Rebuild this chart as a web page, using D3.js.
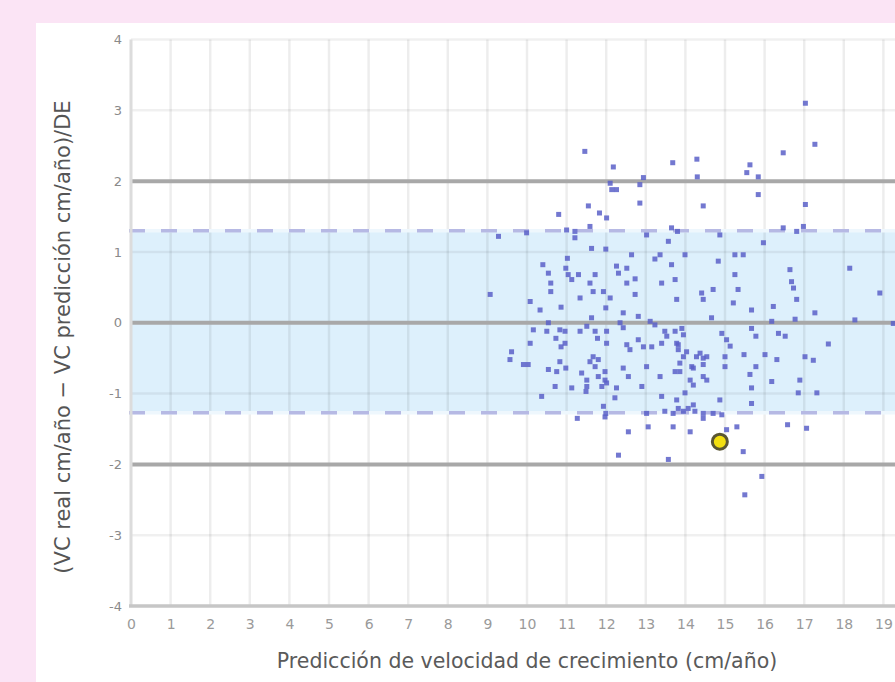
<!DOCTYPE html>
<html>
<head>
<meta charset="utf-8">
<script src="https://cdn.jsdelivr.net/npm/d3@7"></script>
<style>
  html, body { margin: 0; padding: 0; background: #fbe4f5; overflow: hidden; }
  svg { display: block; font-family: "DejaVu Sans", sans-serif; }
</style>
</head>
<body>
<svg id="chart"></svg>
<script>
// axis ticks
const xTickValues = [0, 1, 2, 3, 4, 5, 6, 7, 8, 9, 10, 11, 12, 13, 14, 15, 16, 17, 18, 19];
const yTickValues = [4, 3, 2, 1, 0, -1, -2, -3, -4];
// reference lines (+2 / 0 / -2 DE) and the shaded band
const limitLines = [2, 0, -2];
const bandLimits = [-1.27, 1.30];
// predicted growth velocity (cm/año) of each child
const predictedVelocity = [
  17.03, 17.27, 11.46, 16.47, 14.29, 13.68, 12.18, 15.63, 15.55, 14.30,
  15.84, 12.94, 12.85, 12.10, 12.14, 12.26, 15.84, 12.85, 11.55, 14.45,
  17.03, 10.80, 11.83, 12.01, 11.59, 9.99, 9.28, 11.00, 11.21, 11.21,
  13.02, 13.65, 13.57, 13.80, 11.63, 11.99, 14.87, 16.47, 16.81, 16.98,
  15.97, 11.02, 12.64, 13.36, 13.23, 13.65, 10.40, 10.54, 10.98, 11.04,
  11.13, 11.30, 11.72, 11.59, 12.26, 12.52, 12.31, 12.73, 12.52, 13.40,
  13.74, 10.60, 10.60, 9.07, 10.08, 10.33, 10.86, 11.34, 11.67, 11.93,
  12.10, 11.99, 12.43, 12.73, 12.81, 13.11, 13.78, 11.63, 12.35, 12.43,
  10.54, 10.16, 10.83, 10.96, 11.51, 11.34, 11.72, 12.01, 13.23, 13.48,
  13.74, 10.50, 10.73, 10.96, 10.86, 10.08, 11.78, 12.01, 12.52, 12.60,
  12.81, 12.94, 13.15, 13.40, 13.78, 9.61, 9.57, 9.91, 10.03, 10.83,
  10.98, 10.54, 10.75, 11.67, 11.59, 11.80, 11.72, 11.38, 11.97, 11.51,
  11.80, 11.97, 12.43, 12.56, 13.02, 13.36, 13.74, 10.71, 11.13, 11.51,
  11.49, 11.89, 12.01, 12.26, 12.22, 12.90, 10.37, 13.40, 13.78, 11.93,
  11.99, 13.02, 13.48, 13.53, 13.95, 13.82, 14.03, 13.95, 14.28, 14.16,
  13.86, 14.07, 14.20, 13.69, 14.12, 14.20, 13.86, 11.27, 11.97, 12.56,
  13.06, 13.69, 14.12, 12.31, 13.57, 14.45, 15.30, 15.04, 16.58, 17.06,
  15.46, 15.93, 15.50, 13.99, 15.25, 15.46, 14.83, 16.64, 18.15, 15.25,
  16.68, 16.73, 14.41, 14.70, 15.33, 14.45, 16.81, 18.91, 15.21, 15.67,
  16.22, 17.27, 14.66, 16.18, 16.77, 18.28, 19.25, 13.91, 15.67, 14.92,
  15.78, 16.35, 16.52, 15.04, 15.13, 17.61, 14.37, 14.45, 14.54, 15.00,
  15.48, 16.01, 16.31, 17.02, 17.23, 14.20, 14.45, 15.00, 15.78, 15.63,
  14.54, 16.18, 16.89, 15.67, 16.85, 17.32, 14.87, 15.67, 13.95, 14.24,
  14.70, 14.92, 13.82, 14.45, 13.99, 13.82, 14.45
];
// (VC real - VC predicción) / DE for the same children
const standardizedDiff = [
  3.10, 2.52, 2.42, 2.40, 2.31, 2.26, 2.20, 2.23, 2.12, 2.06,
  2.06, 2.05, 1.95, 1.97, 1.88, 1.88, 1.81, 1.69, 1.65, 1.65,
  1.67, 1.53, 1.55, 1.48, 1.36, 1.27, 1.22, 1.31, 1.29, 1.20,
  1.24, 1.34, 1.15, 1.29, 1.05, 1.04, 1.24, 1.34, 1.29, 1.36,
  1.13, 0.91, 0.96, 0.96, 0.90, 0.82, 0.82, 0.70, 0.77, 0.68,
  0.61, 0.68, 0.68, 0.56, 0.80, 0.77, 0.70, 0.62, 0.56, 0.56,
  0.61, 0.56, 0.44, 0.40, 0.30, 0.18, 0.22, 0.35, 0.44, 0.44,
  0.35, 0.21, 0.14, 0.40, 0.09, 0.02, 0.33, 0.07, 0.00, -0.07,
  0.00, -0.10, -0.10, -0.12, -0.05, -0.12, -0.12, -0.12, -0.03, -0.12,
  -0.12, -0.12, -0.22, -0.29, -0.34, -0.29, -0.22, -0.29, -0.31, -0.38,
  -0.24, -0.34, -0.34, -0.29, -0.29, -0.41, -0.52, -0.59, -0.59, -0.55,
  -0.64, -0.66, -0.69, -0.48, -0.55, -0.52, -0.62, -0.71, -0.69, -0.81,
  -0.76, -0.81, -0.64, -0.76, -0.62, -0.76, -0.69, -0.90, -0.92, -0.90,
  -0.97, -0.90, -0.85, -0.92, -1.06, -0.90, -1.04, -1.04, -1.09, -1.18,
  -1.28, -1.28, -1.25, -0.19, -0.17, -0.31, -0.41, -0.48, -0.48, -0.62,
  -0.69, -1.21, -1.16, -1.28, -0.81, -0.88, -0.57, -1.35, -1.33, -1.54,
  -1.47, -1.47, -1.54, -1.87, -1.93, -1.35, -1.47, -1.51, -1.44, -1.49,
  -1.82, -2.17, -2.43, 0.96, 0.96, 0.96, 0.87, 0.75, 0.77, 0.68,
  0.58, 0.49, 0.42, 0.47, 0.47, 0.33, 0.33, 0.42, 0.28, 0.18,
  0.23, 0.14, 0.07, 0.02, 0.05, 0.04, -0.01, -0.08, -0.08, -0.15,
  -0.19, -0.15, -0.19, -0.24, -0.33, -0.30, -0.43, -0.50, -0.48, -0.48,
  -0.45, -0.45, -0.52, -0.48, -0.53, -0.64, -0.59, -0.62, -0.62, -0.73,
  -0.81, -0.83, -0.81, -0.92, -0.99, -0.99, -1.09, -1.14, -1.25, -1.25,
  -1.28, -1.30, -0.38, -0.76, -0.99, -1.21, -1.28
];
// the highlighted patient
const patientPoint = { x: 14.87, y: -1.68 };

const width = 895;
const height = 682;
const panel = { left: 36, top: 23 };

const svg = d3.select('#chart')
  .attr('width', width)
  .attr('height', height);

svg.append('rect')
  .attr('x', panel.left)
  .attr('y', panel.top)
  .attr('width', width - panel.left)
  .attr('height', height - panel.top)
  .attr('fill', '#ffffff');

const x = d3.scaleLinear().domain([0, 20]).range([131, 923]);
const y = d3.scaleLinear().domain([-4, 4]).range([606, 39.5]);
const right = width + 5;

// shaded band
svg.append('rect')
  .attr('x', x(0))
  .attr('y', y(bandLimits[1]))
  .attr('width', right - x(0))
  .attr('height', y(bandLimits[0]) - y(bandLimits[1]))
  .attr('fill', '#ddf0fc');

// grid
svg.append('g')
  .selectAll('line')
  .data(xTickValues.slice(1))
  .join('line')
  .attr('x1', (d) => x(d))
  .attr('x2', (d) => x(d))
  .attr('y1', y(4))
  .attr('y2', y(-4))
  .attr('stroke', '#000')
  .attr('stroke-opacity', 0.07)
  .attr('stroke-width', 2.5);

svg.append('g')
  .selectAll('line')
  .data(yTickValues.filter((d) => !limitLines.includes(d) && d !== -4))
  .join('line')
  .attr('x1', x(0))
  .attr('x2', right)
  .attr('y1', (d) => y(d))
  .attr('y2', (d) => y(d))
  .attr('stroke', '#000')
  .attr('stroke-opacity', 0.06)
  .attr('stroke-width', 2.5);

// band edges
const bandEdges = svg.append('g');
bandEdges.selectAll('line.under')
  .data(bandLimits)
  .join('line')
  .attr('class', 'under')
  .attr('x1', x(0) - 2)
  .attr('x2', right)
  .attr('y1', (d) => y(d))
  .attr('y2', (d) => y(d))
  .attr('stroke', '#eef7fd')
  .attr('stroke-width', 3.5);
bandEdges.selectAll('line.dash')
  .data(bandLimits)
  .join('line')
  .attr('class', 'dash')
  .attr('x1', x(0) - 2)
  .attr('x2', right)
  .attr('y1', (d) => y(d))
  .attr('y2', (d) => y(d))
  .attr('stroke', '#b6b9e4')
  .attr('stroke-width', 3.5)
  .attr('stroke-dasharray', '16,16');

// thick lines at 0 and +-2
svg.append('g')
  .selectAll('line')
  .data(limitLines)
  .join('line')
  .attr('x1', x(0))
  .attr('x2', right)
  .attr('y1', (d) => y(d))
  .attr('y2', (d) => y(d))
  .attr('stroke', '#a8a8a8')
  .attr('stroke-width', 4);

// left and bottom axis lines
svg.append('line')
  .attr('x1', x(0)).attr('x2', x(0))
  .attr('y1', y(4)).attr('y2', y(-4))
  .attr('stroke', '#dcdcdc')
  .attr('stroke-width', 3);
svg.append('line')
  .attr('x1', x(0) - 2).attr('x2', right)
  .attr('y1', y(-4)).attr('y2', y(-4))
  .attr('stroke', '#c6c6c6')
  .attr('stroke-width', 3.5);

// points
const points = predictedVelocity.map((v, i) => ({ x: v, y: standardizedDiff[i] }));
svg.append('g')
  .selectAll('rect')
  .data(points)
  .join('rect')
  .attr('x', (d) => x(d.x) - 2.5)
  .attr('y', (d) => y(d.y) - 2.5)
  .attr('width', 5)
  .attr('height', 5)
  .attr('fill', '#5a60c8')
  .attr('fill-opacity', 0.85);

svg.append('circle')
  .attr('cx', x(patientPoint.x))
  .attr('cy', y(patientPoint.y))
  .attr('r', 7.5)
  .attr('fill', '#f3df10')
  .attr('stroke', '#5a5632')
  .attr('stroke-width', 3);

// axes
const xAxis = svg.append('g')
  .attr('transform', `translate(0, ${y(-4) + 13})`)
  .call(d3.axisBottom(x).tickValues(xTickValues).tickSize(0).tickPadding(0).tickFormat(d3.format('d')));
xAxis.select('.domain').remove();
xAxis.selectAll('text')
  .attr('font-size', 14)
  .attr('font-family', '"DejaVu Sans", sans-serif')
  .attr('fill', '#9a9a9a');

const yAxis = svg.append('g')
  .attr('transform', `translate(${x(0) - 9}, 0)`)
  .call(d3.axisLeft(y).tickValues(yTickValues).tickSize(0).tickPadding(0)
    .tickFormat((d) => String(d)));
yAxis.select('.domain').remove();
yAxis.selectAll('text')
  .attr('font-size', 13)
  .attr('font-family', '"DejaVu Sans", sans-serif')
  .attr('fill', '#8a8a8a');

// titles
svg.append('text')
  .attr('x', 527)
  .attr('y', 668)
  .attr('text-anchor', 'middle')
  .attr('font-size', 20.5)
  .attr('fill', '#5a5a5a')
  .text('Predicción de velocidad de crecimiento (cm/año)');

svg.append('text')
  .attr('transform', 'translate(70, 337) rotate(-90)')
  .attr('text-anchor', 'middle')
  .attr('font-size', 21)
  .attr('fill', '#555555')
  .text('(VC real cm/año − VC predicción cm/año)/DE');
</script>
</body>
</html>
